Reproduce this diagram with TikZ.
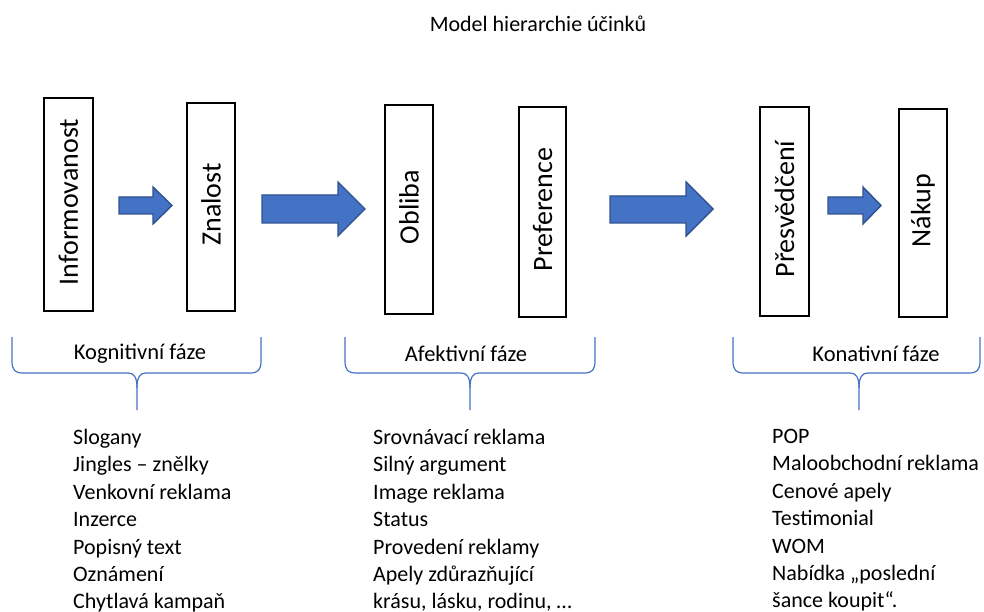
\documentclass[tikz,border=0pt]{standalone}
\usepackage{fontspec}
\setmainfont{Carlito}
\definecolor{arrowfill}{HTML}{4472C4}
\definecolor{arrowdraw}{HTML}{2F528F}
\definecolor{bracecol}{HTML}{4472C4}
\tikzset{
  stagebox/.style={draw=black, line width=1.3pt, fill=white, inner sep=0pt},
  stagetext/.style={rotate=90, font=\fontsize{28}{32}\selectfont, inner sep=0pt, xshift=2.5pt},
  blockarrow/.style={fill=arrowfill, draw=arrowdraw, line width=1.4pt, line join=miter},
  phasebrace/.style={draw=bracecol, line width=1.2pt},
  phaselabel/.style={font=\fontsize{22.5}{26}\selectfont, inner sep=0pt},
  listtext/.style={font=\fontsize{22}{27.4}\selectfont, align=left, anchor=north west, inner sep=0pt},
  titletext/.style={font=\fontsize{22}{26}\selectfont, inner sep=0pt}
}
\begin{document}
\begin{tikzpicture}[x=1pt,y=-1pt]
\useasboundingbox (0,0) rectangle (984,612);
% title
\node[titletext] (title) at (538,24) {Model hierarchie účinků};
% boxes
\node[stagebox, minimum width=49pt, minimum height=213pt] (b1) at (68.5,204.5) {};
\node[stagebox, minimum width=48pt, minimum height=208pt] (b2) at (211,207) {};
\node[stagebox, minimum width=48pt, minimum height=209pt] (b3) at (409,209.5) {};
\node[stagebox, minimum width=47pt, minimum height=210pt] (b4) at (542.5,212) {};
\node[stagebox, minimum width=49pt, minimum height=209pt] (b5) at (784.5,211.5) {};
\node[stagebox, minimum width=48pt, minimum height=208pt] (b6) at (923,213) {};
\node[stagetext] (t1) at (b1.center) {Informovanost};
\node[stagetext] (t2) at (b2.center) {Znalost};
\node[stagetext] (t3) at (b3.center) {Obliba};
\node[stagetext] (t4) at (b4.center) {Preference};
\node[stagetext] (t5) at (b5.center) {Přesvědčení};
\node[stagetext] (t6) at (b6.center) {Nákup};
% block arrows
\draw[blockarrow] (119,197) -- (153,197) -- (153,187) -- (172,205.5) -- (153,224) -- (153,214) -- (119,214) -- cycle;
\draw[blockarrow] (262,195) -- (338,195) -- (338,182) -- (365,209) -- (338,236) -- (338,223) -- (262,223) -- cycle;
\draw[blockarrow] (610,196) -- (686,196) -- (686,182) -- (713,209) -- (686,236) -- (686,223) -- (610,223) -- cycle;
\draw[blockarrow] (828,197) -- (863,197) -- (863,187) -- (881,205.5) -- (863,224) -- (863,214) -- (828,214) -- cycle;
% braces
\foreach \xl/\xm/\xr in {12/137/261, 345/470/595, 733/859/980}{
  \draw[phasebrace] (\xl,337) -- (\xl,361) .. controls (\xl,370) and (\xl+3,373) .. (\xl+11,373)
    -- (\xm-9,373) .. controls (\xm-3,373) and (\xm,377) .. (\xm,388) -- (\xm,410);
  \draw[phasebrace] (\xr,337) -- (\xr,361) .. controls (\xr,370) and (\xr-3,373) .. (\xr-11,373)
    -- (\xm+9,373) .. controls (\xm+3,373) and (\xm,377) .. (\xm,388);
}
\node[phaselabel] (p1) at (140,354) {Kognitivní fáze};
\node[phaselabel] (p2) at (466,354) {Afektivní fáze};
\node[phaselabel] (p3) at (876,354) {Konativní fáze};
% lists
\node[listtext] (l1) at (73,429) {Slogany\\Jingles – znělky\\Venkovní reklama\\Inzerce\\Popisný text\\Oznámení\\Chytlavá kampaň};
\node[listtext] (l2) at (373,429) {Srovnávací reklama\\Silný argument\\Image reklama\\Status\\Provedení reklamy\\Apely zdůrazňující\\krásu, lásku, rodinu, …};
\node[listtext] (l3) at (772,429) {POP\\Maloobchodní reklama\\Cenové apely\\Testimonial\\WOM\\Nabídka „poslední\\šance koupit“.};
\end{tikzpicture}
\end{document}
